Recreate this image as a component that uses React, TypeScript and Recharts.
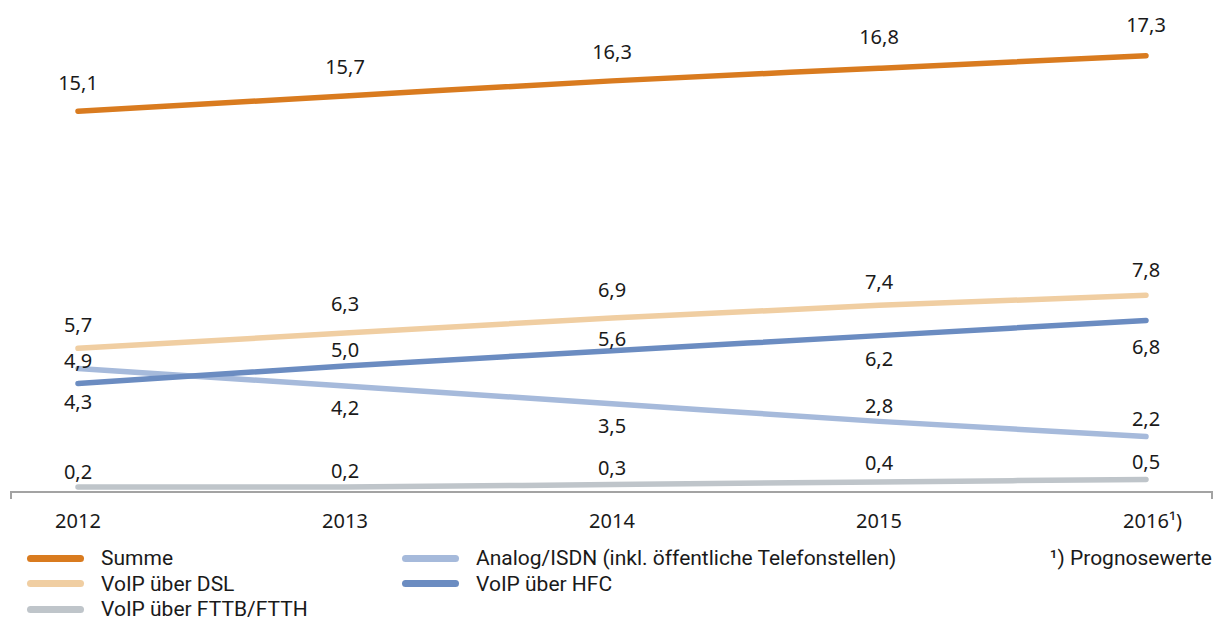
import React from "react";
import { Line, LineChart, XAxis, YAxis } from "recharts";

const years = ["2012", "2013", "2014", "2015", "2016"];
const summe = [15.1, 15.7, 16.3, 16.8, 17.3];
const voipDsl = [5.7, 6.3, 6.9, 7.4, 7.8];
const voipHfc = [4.3, 5.0, 5.6, 6.2, 6.8];
const analogIsdn = [4.9, 4.2, 3.5, 2.8, 2.2];
const voipFttb = [0.2, 0.2, 0.3, 0.4, 0.5];

const data = years.map((year, i) => ({
  year,
  summe: summe[i],
  dsl: voipDsl[i],
  hfc: voipHfc[i],
  analog: analogIsdn[i],
  fttb: voipFttb[i],
}));

const FONT = "'Noto Sans', sans-serif";
const LEGEND_FONT = "Roboto, 'Noto Sans', sans-serif";

// label offset from the point (label centre), per point
const series = [
  { key: "summe", name: "Summe", color: "#d97b1f", dy: [-29, -30, -29, -32, -31] },
  { key: "dsl", name: "VoIP über DSL", color: "#f0cea2", dy: [-24, -30, -28, -24, -26] },
  { key: "fttb", name: "VoIP über FTTB/FTTH", color: "#bfc5ca", dy: [-15, -16, -17, -19, -18] },
  { key: "analog", name: "Analog/ISDN (inkl. öffentliche Telefonstellen)", color: "#a6badb", dy: [-8, 21, 22, -16, -18] },
  { key: "hfc", name: "VoIP über HFC", color: "#6b8cc1", dy: [18, -16, -12, 23, 26] },
];

const fmt = (v: number) => v.toFixed(1).replace(".", ",");

const labelDot = (dy: number[]) => (props: any) => {
  const { cx, cy, index, value } = props;
  return (
    <text
      key={index}
      x={cx}
      y={cy + dy[index]}
      textAnchor="middle"
      dominantBaseline="central"
      fontFamily={FONT}
      fontSize={20}
      fill="#1a1a1a"
    >
      {fmt(Array.isArray(value) ? value[1] : value)}
    </text>
  );
};

const YearTick = (props: any) => {
  const { x, y, payload } = props;
  return (
    <g>
      <text
        x={x}
        y={y + 20}
        textAnchor="middle"
        dominantBaseline="central"
        fontFamily={FONT}
        fontSize={20}
        fill="#1a1a1a"
      >
        {payload.value}
      </text>
      {payload.value === "2016" && (
        <text
          x={x + 23}
          y={y + 20}
          dominantBaseline="central"
          fontFamily={FONT}
          fontSize={20}
          fill="#1a1a1a"
        >
          ¹)
        </text>
      )}
    </g>
  );
};

const legendCols = [
  { left: 27, items: ["summe", "dsl", "fttb"] },
  { left: 402, items: ["analog", "hfc"] },
];

export default function App() {
  return (
    <div
      style={{
        position: "relative",
        width: 1215,
        height: 621,
        background: "#fff",
        fontFamily: FONT,
        color: "#1a1a1a",
      }}
    >
      <style>{"body{margin:0}"}</style>
      <LineChart
        width={1215}
        height={535}
        data={data}
        margin={{ top: 38, right: 2, left: 10, bottom: 3 }}
      >
        <XAxis
          dataKey="year"
          padding={{ left: 68, right: 67 }}
          axisLine={{ stroke: "#a3a3a3", strokeWidth: 2 }}
          tickLine={false}
          height={40}
          tick={<YearTick />}
          interval={0}
        />
        <YAxis hide domain={[0, 18]} />
        {series.map((s) => (
          <Line
            key={s.key}
            dataKey={s.key}
            type="monotone"
            stroke={s.color}
            strokeWidth={5.5}
            strokeLinecap="round"
            dot={labelDot(s.dy)}
            activeDot={false}
            isAnimationActive={false}
          />
        ))}
      </LineChart>
      <div style={{ position: "absolute", left: 10, top: 492, width: 2, height: 7, background: "#a3a3a3" }} />
      <div style={{ position: "absolute", left: 1211, top: 492, width: 2, height: 7, background: "#a3a3a3" }} />
      {legendCols.map((col) =>
        col.items.map((k, row) => {
          const s = series.find((x) => x.key === k)!;
          return (
            <div
              key={k}
              style={{
                position: "absolute",
                left: col.left,
                top: 558 + row * 25.5 - 9,
                height: 18,
                lineHeight: "18px",
                display: "flex",
                alignItems: "center",
                fontFamily: LEGEND_FONT,
                fontSize: 21,
                whiteSpace: "nowrap",
              }}
            >
              <span
                style={{
                  display: "inline-block",
                  width: 57,
                  height: 7,
                  borderRadius: 4,
                  background: s.color,
                  marginRight: 17,
                }}
              />
              {s.name}
            </div>
          );
        })
      )}
      <div
        style={{
          position: "absolute",
          right: 3,
          top: 549,
          height: 18,
          lineHeight: "18px",
          display: "flex",
          alignItems: "center",
          fontFamily: LEGEND_FONT,
          fontSize: 21,
          whiteSpace: "nowrap",
        }}
      >
        ¹) Prognosewerte
      </div>
    </div>
  );
}
